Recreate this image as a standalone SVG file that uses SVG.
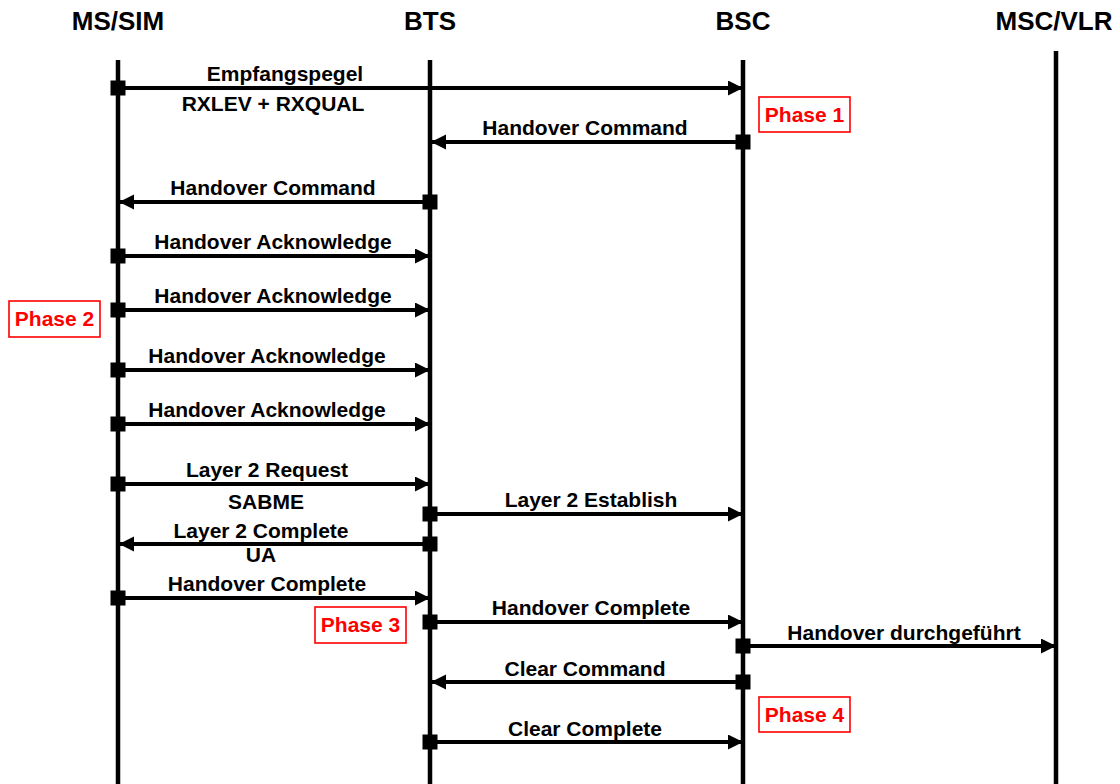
<svg xmlns="http://www.w3.org/2000/svg" width="1120" height="784" viewBox="0 0 1120 784">
<style>
text{font-family:"Liberation Sans",Arial,Helvetica,sans-serif;font-weight:bold;text-anchor:middle;fill:#000}
.hd{font-size:26px}
.lb{font-size:21px}
.life{stroke:#000;stroke-width:4.5;fill:none}
.msg{stroke:#000;stroke-width:4;fill:none;marker-end:url(#ah)}
.sq{fill:#000}
.ph rect{fill:#fff;stroke:#f00;stroke-width:1.6}
.ph text{fill:#f00;font-size:21px}
</style>
<defs>
<marker id="ah" markerUnits="userSpaceOnUse" markerWidth="16" markerHeight="16" refX="15" refY="7.5" orient="auto" viewBox="0 0 16 16">
<path d="M0,0 L15,7.5 L0,15 z" fill="#000"/>
</marker>
</defs>
<rect width="1120" height="784" fill="#fff"/>
<g id="lifelines">
<g id="ms"><text class="hd" x="118" y="30">MS/SIM</text><line class="life" x1="118" y1="60" x2="118" y2="784"/></g>
<g id="bts"><text class="hd" x="430" y="30">BTS</text><line class="life" x1="430" y1="60" x2="430" y2="784"/></g>
<g id="bsc"><text class="hd" x="743" y="30">BSC</text><line class="life" x1="743" y1="60" x2="743" y2="784"/></g>
<g id="msc"><text class="hd" x="1054" y="30">MSC/VLR</text><line class="life" x1="1056" y1="51" x2="1056" y2="784"/></g>
</g>
<g id="connectors">
<line class="msg" x1="118" y1="88" x2="743" y2="88"/>
<line class="msg" x1="743" y1="142" x2="431" y2="142"/>
<line class="msg" x1="430" y1="202" x2="119" y2="202"/>
<line class="msg" x1="118" y1="256" x2="430" y2="256"/>
<line class="msg" x1="118" y1="310" x2="430" y2="310"/>
<line class="msg" x1="118" y1="370" x2="430" y2="370"/>
<line class="msg" x1="118" y1="424" x2="430" y2="424"/>
<line class="msg" x1="118" y1="484" x2="430" y2="484"/>
<line class="msg" x1="430" y1="514" x2="743" y2="514"/>
<line class="msg" x1="430" y1="544" x2="119" y2="544"/>
<line class="msg" x1="118" y1="598" x2="430" y2="598"/>
<line class="msg" x1="430" y1="622" x2="743" y2="622"/>
<line class="msg" x1="743" y1="646" x2="1056" y2="646"/>
<line class="msg" x1="743" y1="682" x2="431" y2="682"/>
<line class="msg" x1="430" y1="742" x2="743" y2="742"/>
</g>
<g id="squares">
<rect class="sq" x="110.5" y="80.5" width="15" height="15"/>
<rect class="sq" x="735.5" y="134.5" width="15" height="15"/>
<rect class="sq" x="422.5" y="194.5" width="15" height="15"/>
<rect class="sq" x="110.5" y="248.5" width="15" height="15"/>
<rect class="sq" x="110.5" y="302.5" width="15" height="15"/>
<rect class="sq" x="110.5" y="362.5" width="15" height="15"/>
<rect class="sq" x="110.5" y="416.5" width="15" height="15"/>
<rect class="sq" x="110.5" y="476.5" width="15" height="15"/>
<rect class="sq" x="422.5" y="506.5" width="15" height="15"/>
<rect class="sq" x="422.5" y="536.5" width="15" height="15"/>
<rect class="sq" x="110.5" y="590.5" width="15" height="15"/>
<rect class="sq" x="422.5" y="614.5" width="15" height="15"/>
<rect class="sq" x="735.5" y="638.5" width="15" height="15"/>
<rect class="sq" x="735.5" y="674.5" width="15" height="15"/>
<rect class="sq" x="422.5" y="734.5" width="15" height="15"/>
</g>
<g id="labels">
<text class="lb" x="285" y="81">Empfangspegel</text>
<text class="lb" x="273" y="111">RXLEV + RXQUAL</text>
<text class="lb" x="585" y="135">Handover Command</text>
<text class="lb" x="273" y="195">Handover Command</text>
<text class="lb" x="273" y="249">Handover Acknowledge</text>
<text class="lb" x="273" y="303">Handover Acknowledge</text>
<text class="lb" x="267" y="363">Handover Acknowledge</text>
<text class="lb" x="267" y="417">Handover Acknowledge</text>
<text class="lb" x="267" y="477">Layer 2 Request</text>
<text class="lb" x="266" y="509">SABME</text>
<text class="lb" x="591" y="507">Layer 2 Establish</text>
<text class="lb" x="261" y="538">Layer 2 Complete</text>
<text class="lb" x="261" y="562">UA</text>
<text class="lb" x="267" y="591">Handover Complete</text>
<text class="lb" x="591" y="615">Handover Complete</text>
<text class="lb" x="904" y="640">Handover durchgeführt</text>
<text class="lb" x="585" y="676">Clear Command</text>
<text class="lb" x="585" y="736">Clear Complete</text>
</g>
<g id="phase1" class="ph"><rect x="759" y="97" width="91" height="35"/><text x="804.5" y="122">Phase 1</text></g>
<g id="phase2" class="ph"><rect x="9" y="301" width="91" height="36"/><text x="54.5" y="326">Phase 2</text></g>
<g id="phase3" class="ph"><rect x="315" y="607" width="91" height="36"/><text x="360.5" y="632">Phase 3</text></g>
<g id="phase4" class="ph"><rect x="759" y="697" width="91" height="35"/><text x="804.5" y="722">Phase 4</text></g>
</svg>
